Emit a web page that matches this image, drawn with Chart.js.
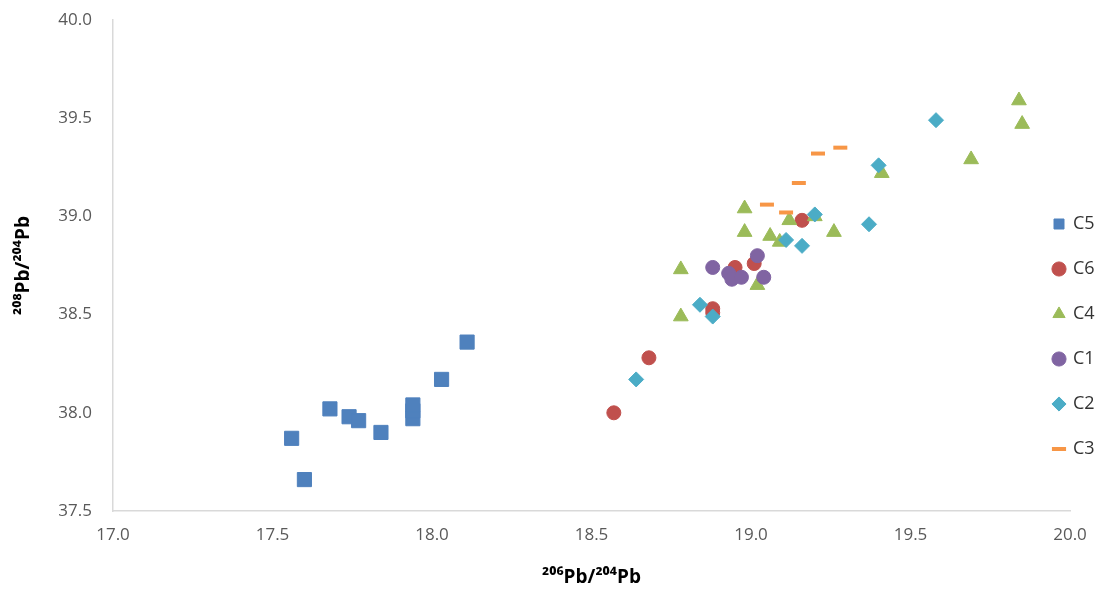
<!DOCTYPE html>
<html>
<head>
<meta charset="utf-8">
<script src="https://cdn.jsdelivr.net/npm/chart.js@4.4.1/dist/chart.umd.min.js"></script>
<style>
  html, body { margin: 0; padding: 0; background: #fff; }
  #wrap { width: 1104px; height: 589px; }
</style>
</head>
<body>
<div id="wrap"><canvas id="chart"></canvas></div>
<script>
// values
const seriesNames = ['C5', 'C6', 'C4', 'C1', 'C2', 'C3'];

const c5X = [17.56, 17.60, 17.68, 17.74, 17.77, 17.84, 17.94, 17.94, 17.94, 18.03, 18.11];
const c5Y = [37.87, 37.66, 38.02, 37.98, 37.96, 37.90, 37.97, 38.01, 38.04, 38.17, 38.36];

const c6X = [18.57, 18.68, 18.88, 18.88, 18.95, 19.01, 19.16];
const c6Y = [38.00, 38.28, 38.53, 38.51, 38.74, 38.76, 38.98];

const c4X = [18.78, 18.78, 18.98, 18.98, 19.02, 19.06, 19.09, 19.12, 19.20, 19.26, 19.41, 19.69, 19.84, 19.85];
const c4Y = [38.73, 38.49, 39.04, 38.92, 38.65, 38.90, 38.87, 38.98, 39.00, 38.92, 39.22, 39.29, 39.59, 39.47];

const c1X = [18.88, 18.93, 18.94, 18.97, 19.02, 19.04];
const c1Y = [38.74, 38.71, 38.68, 38.69, 38.80, 38.69];

const c2X = [18.64, 18.84, 18.88, 19.11, 19.16, 19.20, 19.37, 19.40, 19.58];
const c2Y = [38.17, 38.55, 38.49, 38.88, 38.85, 39.01, 38.96, 39.26, 39.49];

const c3X = [19.05, 19.11, 19.15, 19.21, 19.28];
const c3Y = [39.06, 39.02, 39.17, 39.32, 39.35];

const xTicks = [17.0, 17.5, 18.0, 18.5, 19.0, 19.5, 20.0];
const yTicks = [37.5, 38.0, 38.5, 39.0, 39.5, 40.0];

const pts = (xs, ys) => xs.map((x, i) => ({ x: x, y: ys[i] }));

const fontFam = "'Open Sans', 'Liberation Sans', sans-serif";

// later series sit on top, as in the original, so the list is reversed
// and the legend is reversed back
const datasets = [
    { label: seriesNames[0], data: pts(c5X, c5Y), pointStyle: 'rect', pointRadius: 10, color: '#4F81BD' },
    { label: seriesNames[1], data: pts(c6X, c6Y), pointStyle: 'circle', pointRadius: 7, color: '#C0504D' },
    { label: seriesNames[2], data: pts(c4X, c4Y), pointStyle: 'triangle', pointRadius: 8.5, color: '#9BBB59' },
    { label: seriesNames[3], data: pts(c1X, c1Y), pointStyle: 'circle', pointRadius: 7, color: '#8064A2' },
    { label: seriesNames[4], data: pts(c2X, c2Y), pointStyle: 'rectRot', pointRadius: 7.5, color: '#4BACC6' },
    { label: seriesNames[5], data: pts(c3X, c3Y), pointStyle: 'line', pointRadius: 7, color: '#F79646', line: true }
].map(d => ({
    label: d.label,
    data: d.data,
    pointStyle: d.pointStyle,
    pointRadius: d.pointRadius,
    pointHoverRadius: d.pointRadius,
    backgroundColor: d.color,
    borderColor: d.color,
    pointBorderWidth: d.line ? 4 : 1,
    borderWidth: d.line ? 4 : 1
})).reverse();

// legend sits partly over the plot's right margin, as in the original
const legendShift = {
    id: 'legendShift',
    afterLayout(chart) {
        const lg = chart.legend;
        lg.left -= 43;
        lg.right = chart.width;
        lg.top += 32;
        lg.bottom += 32;
    }
};

new Chart(document.getElementById('chart').getContext('2d'), {
    type: 'scatter',
    data: { datasets: datasets },
    plugins: [legendShift],
    options: {
        responsive: true,
        maintainAspectRatio: false,
        animation: false,
        layout: { padding: { top: 20, left: 10, right: 0, bottom: 0 } },
        plugins: {
            tooltip: { enabled: false },
            legend: {
                position: 'right',
                reverse: true,
                maxWidth: 34,
                labels: {
                    usePointStyle: true,
                    boxWidth: 10,
                    boxHeight: 10,
                    padding: 27,
                    color: '#333333',
                    font: { family: fontFam, size: 18 }
                }
            }
        },
        scales: {
            x: {
                type: 'linear',
                min: 17.0,
                max: 20.0,
                afterFit: s => { s.height = 78; },
                afterBuildTicks: s => { s.ticks = xTicks.map(v => ({ value: v })); },
                grid: { display: false, drawTicks: false },
                border: { display: true, color: '#D9D9D9', width: 1.5 },
                ticks: {
                    padding: 14,
                    color: '#595959',
                    font: { family: fontFam, size: 17 },
                    callback: v => Number(v).toFixed(1)
                },
                title: {
                    display: true,
                    text: '²⁰⁶Pb/²⁰⁴Pb',
                    color: '#000000',
                    font: { family: fontFam, size: 19, weight: 'bold' },
                    padding: { top: 6, bottom: 0 }
                }
            },
            y: {
                type: 'linear',
                min: 37.5,
                max: 40.0,
                afterFit: s => { s.width = 103; s.paddingTop = 10; s.paddingBottom = 10; },
                afterBuildTicks: s => { s.ticks = yTicks.map(v => ({ value: v })); },
                grid: { display: false, drawTicks: false },
                border: { display: true, color: '#D9D9D9', width: 1.5 },
                ticks: {
                    padding: 21,
                    color: '#595959',
                    font: { family: fontFam, size: 17 },
                    callback: v => Number(v).toFixed(1)
                },
                title: {
                    display: true,
                    text: '²⁰⁸Pb/²⁰⁴Pb',
                    color: '#000000',
                    font: { family: fontFam, size: 19, weight: 'bold' },
                    padding: { top: 2, bottom: 0 }
                }
            }
        }
    }
});
</script>
</body>
</html>
